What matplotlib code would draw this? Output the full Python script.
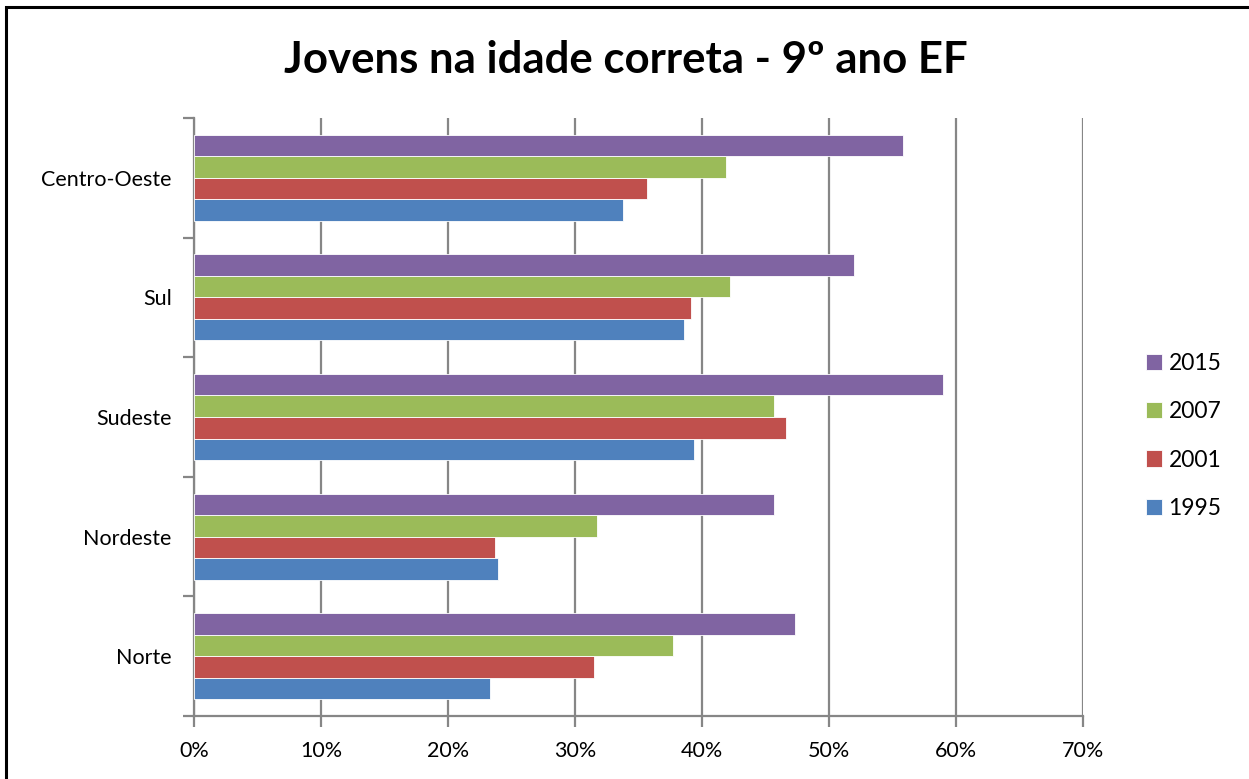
import matplotlib
matplotlib.use("Agg")
import matplotlib.pyplot as plt
from matplotlib.patches import Rectangle
from matplotlib.ticker import FuncFormatter, MultipleLocator
import numpy as np

# data (share of youths at correct age, 9th grade)
regioes = ['Norte', 'Nordeste', 'Sudeste', 'Sul', 'Centro-Oeste']
anos = ['1995', '2001', '2007', '2015']
v1995 = [23.3, 23.9, 39.4, 38.6, 33.8]
v2001 = [31.5, 23.7, 46.6, 39.1, 35.7]
v2007 = [37.7, 31.7, 45.7, 42.2, 41.9]
v2015 = [47.3, 45.7, 59.0, 52.0, 55.8]
cores = ['#4f81bd', '#c0504d', '#9bbb59', '#8064a2']

plt.rcParams['font.family'] = ['Lato', 'DejaVu Sans']

fig = plt.figure(figsize=(12.49, 7.79), dpi=100)
ax = fig.add_axes([194/1249, 1-716/779, (1083-194)/1249, (716-118)/779])

y = np.arange(len(regioes))
h = 0.18
series = [v1995, v2001, v2007, v2015]
for i, (vals, ano, c) in enumerate(zip(series, anos, cores)):
    ax.barh(y + (i - 1.5)*h, vals, height=h, color=c, label=ano,
            edgecolor='white', linewidth=0.6, zorder=3)

ax.set_xlim(0, 70)
ax.set_ylim(-0.5, len(regioes)-0.5)
ax.xaxis.set_major_locator(MultipleLocator(10))
ax.xaxis.set_major_formatter(FuncFormatter(lambda v, p: f"{int(v)}%"))
ax.grid(axis='x', color='#868686', linewidth=1.6, zorder=0)

ax.set_yticks(y)
ax.set_yticklabels(regioes)
ax.set_yticks(np.arange(-0.5, len(regioes), 1), minor=True)
ax.tick_params(axis='y', which='major', length=0, pad=16, labelsize=15.5)
ax.tick_params(axis='y', which='minor', length=8, width=1.6, color='#868686')
ax.tick_params(axis='x', length=8, width=1.6, color='#868686', pad=10, labelsize=15.5)

for s in ['top', 'right']:
    ax.spines[s].set_visible(False)
for s in ['left', 'bottom']:
    ax.spines[s].set_color('#868686')
    ax.spines[s].set_linewidth(1.6)

handles, labels = ax.get_legend_handles_labels()
leg = fig.legend(handles[::-1], labels[::-1], loc='center left',
                 bbox_to_anchor=(1125/1249, 1-436/779), frameon=False,
                 fontsize=16.5, handlelength=0.7, handleheight=0.7,
                 handletextpad=0.3, labelspacing=1.18)

fig.text(626/1249, 1-60/779, 'Jovens na idade correta - 9º ano EF',
         ha='center', va='center', fontsize=31.5, fontweight='bold')

# outer chart frame (cut off at right and bottom in the original)
fig.patches.append(Rectangle((6/1249, -0.1), 1.2, 1-7/779+0.1,
                             transform=fig.transFigure, fill=False,
                             edgecolor='black', linewidth=2.2))

fig.savefig('out.png', dpi=100)
